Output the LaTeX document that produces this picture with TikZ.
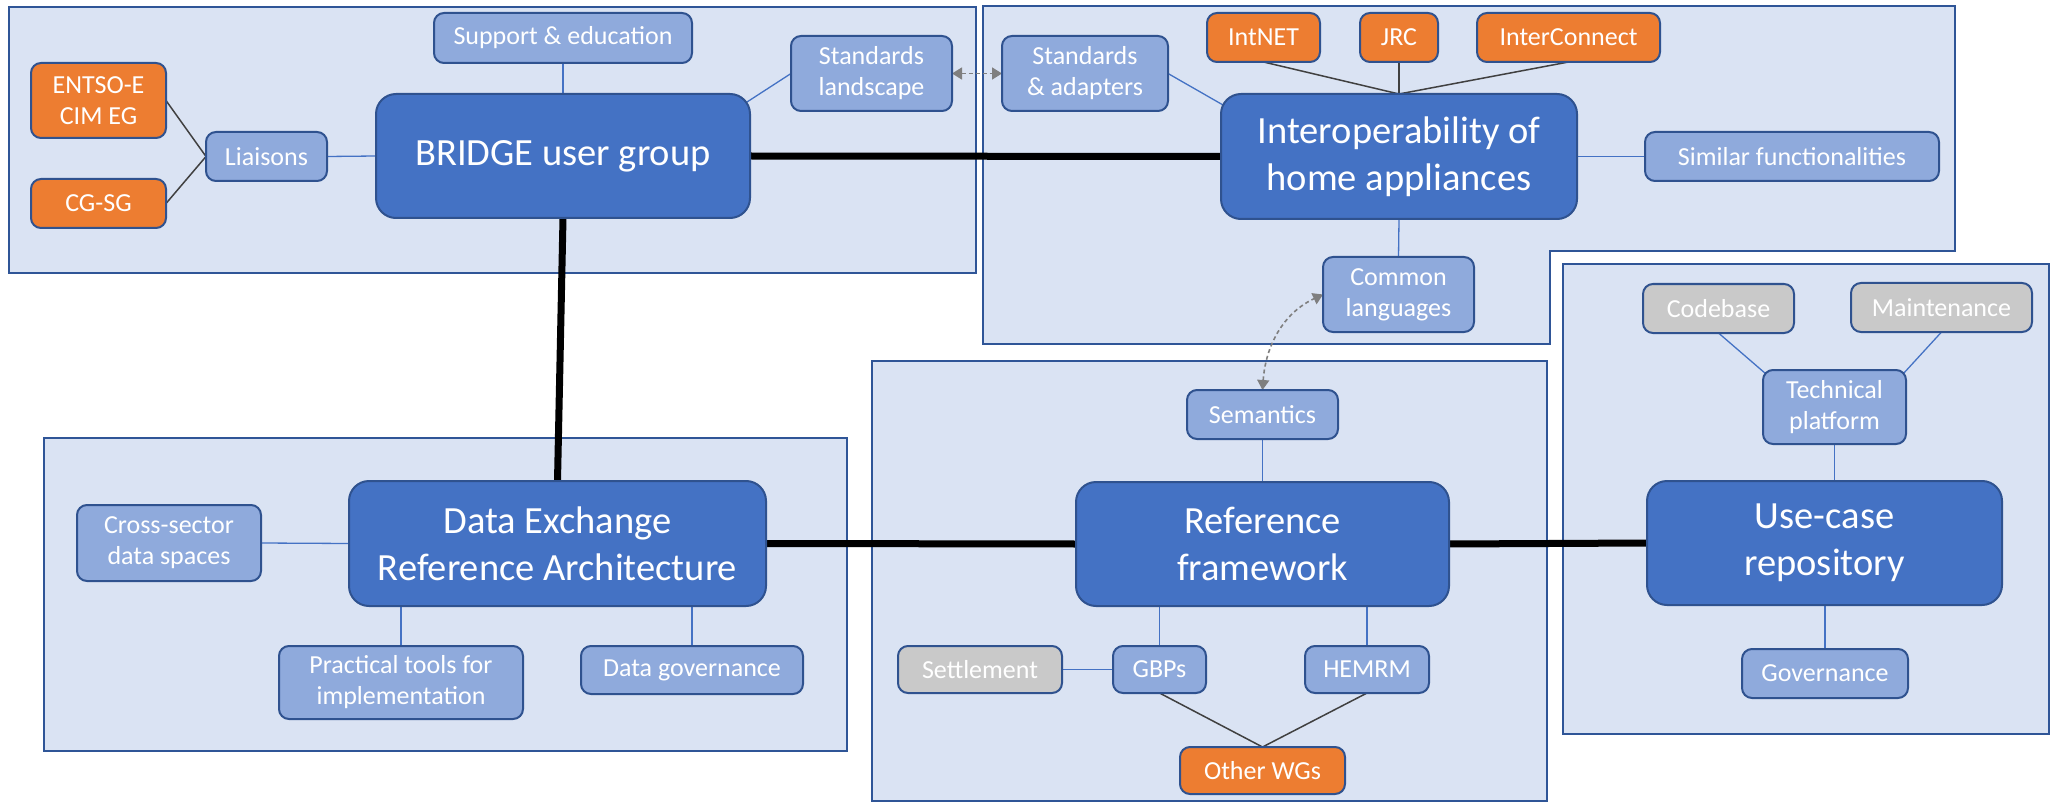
\documentclass[tikz,border=0pt]{standalone}
\usepackage{fontspec}
\setmainfont{Carlito}
\usetikzlibrary{arrows.meta,calc}
\definecolor{panelfill}{HTML}{DAE3F3}
\definecolor{panelborder}{HTML}{2F5597}
\definecolor{mainblue}{HTML}{4472C4}
\definecolor{subblue}{HTML}{8FAADC}
\definecolor{borderblue}{HTML}{2F528F}
\definecolor{orangefill}{HTML}{ED7D31}
\definecolor{grayfill}{HTML}{C9C9C9}
\definecolor{darkline}{HTML}{404040}
\definecolor{arrowgray}{HTML}{7F7F7F}
\pgfdeclarelayer{bg}
\pgfdeclarelayer{mid}
\pgfsetlayers{bg,mid,main}
\newcommand\mainfs{\fontsize{38.5}{47}\selectfont}
\newcommand\subfs{\fontsize{26}{31}\selectfont}
\tikzset{
  panel/.style={fill=panelfill, draw=panelborder, line width=2pt},
  boxbase/.style={draw=borderblue, line width=2pt, text=white, align=center, inner sep=0pt, outer sep=0pt},
  mainbox/.style={boxbase, rounded corners=20pt, fill=mainblue, font=\mainfs},
  subbox/.style={boxbase, rounded corners=10pt, fill=subblue, font=\subfs},
  orangebox/.style={boxbase, rounded corners=10pt, fill=orangefill, font=\subfs},
  graybox/.style={boxbase, rounded corners=10pt, fill=grayfill, font=\subfs},
  bline/.style={draw=mainblue, line width=1.3pt},
  dline/.style={draw=darkline, line width=1.5pt},
  heavy/.style={draw=black, line width=7pt},
  dasharrow/.style={draw=arrowgray, line width=1.6pt, dash pattern=on 4pt off 3pt, {Triangle[length=10pt,width=12pt]}-{Triangle[length=10pt,width=12pt]}},
}
\newcommand\bx[7]{\node[#1, minimum width={(#5-#3)*1pt}, minimum height={(#6-#4)*1pt}] (#2) at ({(#3+#5)/2},{(#4+#6)/2}) {#7};}
\begin{document}
\begin{tikzpicture}[x=1pt,y=-1pt]
\useasboundingbox (0,0) rectangle (2055,802);
\begin{pgfonlayer}{bg}
\fill[white] (0,0) rectangle (2055,802);
\draw[panel] (9,7) rectangle (976,273);
\draw[panel] (983,6) -- (1955,6) -- (1955,251) -- (1550,251) -- (1550,344) -- (983,344) -- cycle;
\draw[panel] (44,438) rectangle (847,751);
\draw[panel] (872,361) rectangle (1547,801);
\draw[panel] (1563,264) rectangle (2049,734);
\end{pgfonlayer}

% panel 1
\bx{orangebox}{entso}{31}{63}{166}{138}{ENTSO-E\\CIM EG}
\bx{orangebox}{cgsg}{31}{179}{166}{228}{CG-SG}
\bx{subbox}{liaisons}{206}{132}{327}{181}{Liaisons}
\bx{mainbox}{bridge}{376}{94}{750}{218}{BRIDGE user group}
\bx{subbox}{support}{434}{13}{692}{63}{Support \& education}
\bx{subbox}{stdland}{791}{36}{952}{111}{Standards\\landscape}
% panel 2
\bx{subbox}{stdadapt}{1002}{36}{1168}{111}{Standards\\\& adapters}
\bx{orangebox}{intnet}{1207}{13}{1320}{62}{IntNET}
\bx{orangebox}{jrc}{1360}{13}{1438}{62}{JRC}
\bx{orangebox}{interconnect}{1477}{13}{1660}{62}{InterConnect}
\bx{mainbox}{interop}{1221}{94}{1577}{219}{Interoperability of\\home appliances}
\bx{subbox}{similar}{1645}{132}{1939}{181}{Similar functionalities}
\bx{subbox}{common}{1323}{257}{1474}{332}{Common\\languages}
% panel 3
\bx{subbox}{cross}{77}{505}{261}{581}{Cross-sector\\data spaces}
\bx{mainbox}{dera}{349}{481}{766}{606}{Data Exchange\\Reference Architecture}
\bx{subbox}{practical}{279}{646}{523}{719}{Practical tools for\\implementation}
\bx{subbox}{datagov}{581}{646}{803}{694}{Data governance}
% panel 4
\bx{subbox}{semantics}{1187}{390}{1338}{439}{Semantics}
\bx{mainbox}{rf}{1076}{482}{1449}{606}{Reference\\framework}
\bx{graybox}{settlement}{898}{646}{1062}{693}{Settlement}
\bx{subbox}{gbps}{1113}{646}{1206}{693}{GBPs}
\bx{subbox}{hemrm}{1305}{646}{1429}{693}{HEMRM}
\bx{orangebox}{otherwgs}{1180}{747}{1345}{794}{Other WGs}
% panel 5
\bx{graybox}{codebase}{1643}{284}{1794}{333}{Codebase}
\bx{graybox}{maintenance}{1851}{283}{2032}{332}{Maintenance}
\bx{subbox}{techplat}{1763}{370}{1906}{444}{Technical\\platform}
\bx{mainbox}{uc}{1647}{481}{2002}{605}{Use-case\\repository}
\bx{subbox}{governance}{1742}{649}{1908}{698}{Governance}

\begin{pgfonlayer}{mid}
% panel 1 links
\draw[dline] (entso.east) -- (liaisons.west);
\draw[dline] (cgsg.east) -- (liaisons.west);
\draw[bline] (liaisons.east) -- (bridge.west);
\draw[bline] (support.south) -- (bridge.north);
\draw[bline] (stdland.west) -- ($(bridge.north east)+(-3,8)$);
% panel 2 links
\draw[bline] (stdadapt.east) -- ($(interop.north west)+(2,11)$);
\draw[dline] (intnet.south) -- (interop.north);
\draw[dline] (jrc.south) -- (interop.north);
\draw[dline] (interconnect.south) -- (interop.north);
\draw[bline] (interop.east) -- (similar.west);
\draw[bline] (interop.south) -- (common.north);
% panel 3 links
\draw[bline] (cross.east) -- (dera.west);
\draw[bline] (practical.north) -- (practical.north |- dera.south);
\draw[bline] (datagov.north) -- (datagov.north |- dera.south);
% panel 4 links
\draw[bline] (semantics.south) -- (rf.north);
\draw[bline] (gbps.north) -- (gbps.north |- rf.south);
\draw[bline] (hemrm.north) -- (hemrm.north |- rf.south);
\draw[bline] (settlement.east) -- (gbps.west);
\draw[dline] (gbps.south) -- (otherwgs.north);
\draw[dline] (hemrm.south) -- (otherwgs.north);
% panel 5 links
\draw[bline] (codebase.south) -- ($(techplat.north west)+(3,4)$);
\draw[bline] (maintenance.south) -- ($(techplat.north east)+(-3,4)$);
\draw[bline] (techplat.south) -- (techplat.south |- uc.north);
\draw[bline] (governance.north) -- (governance.north |- uc.south);
% heavy links
\draw[heavy] (bridge.east) -- (interop.west);
\draw[heavy] (bridge.south) -- (dera.north);
\draw[heavy] (dera.east) -- (rf.west);
\draw[heavy] (rf.east) -- (uc.west);
% dashed arrows
\draw[dasharrow] (stdland.east) -- (stdadapt.west);
\draw[dasharrow] (semantics.north) to[out=86, in=205] (common.west);
\end{pgfonlayer}
\end{tikzpicture}
\end{document}
